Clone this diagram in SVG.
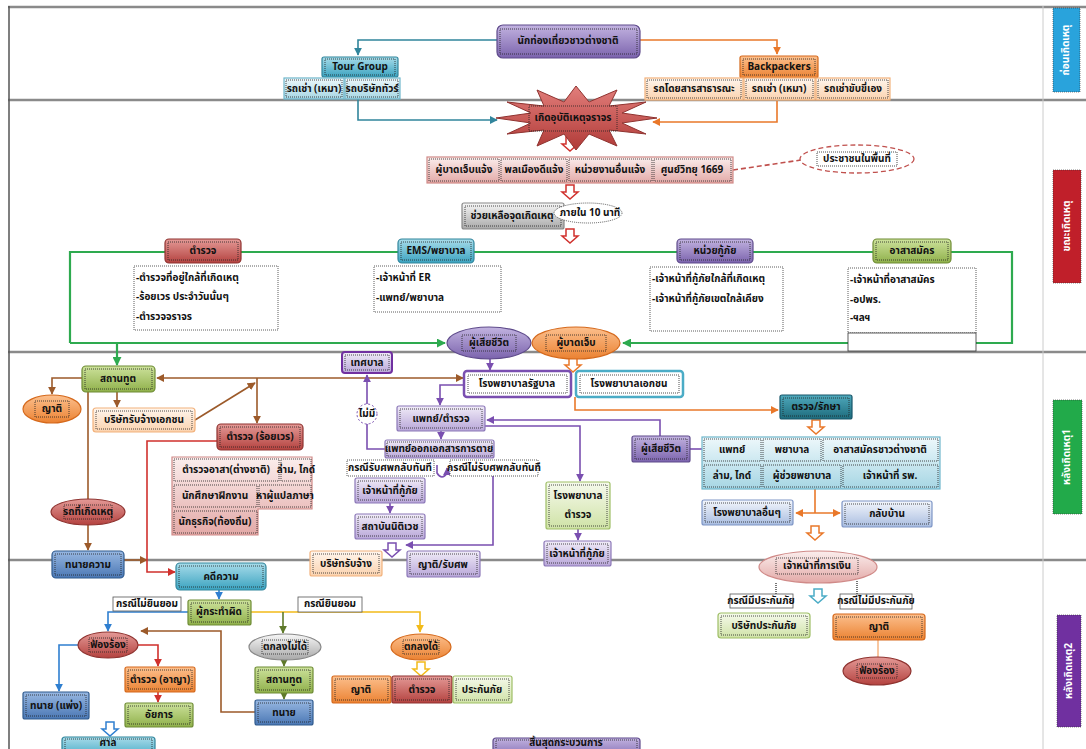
<svg xmlns="http://www.w3.org/2000/svg" width="1086" height="749" viewBox="0 0 1086 749">
<defs>
<linearGradient id="gpu" x1="0" y1="0" x2="0" y2="1"><stop offset="0" stop-color="#c2b3e0"/><stop offset="1" stop-color="#7b63ad"/></linearGradient>
<linearGradient id="gte" x1="0" y1="0" x2="0" y2="1"><stop offset="0" stop-color="#a8dcea"/><stop offset="1" stop-color="#3ba3c0"/></linearGradient>
<linearGradient id="gor" x1="0" y1="0" x2="0" y2="1"><stop offset="0" stop-color="#fcc08e"/><stop offset="1" stop-color="#eb8232"/></linearGradient>
<linearGradient id="gre" x1="0" y1="0" x2="0" y2="1"><stop offset="0" stop-color="#e49a97"/><stop offset="1" stop-color="#b4423f"/></linearGradient>
<linearGradient id="ggr" x1="0" y1="0" x2="0" y2="1"><stop offset="0" stop-color="#cde29c"/><stop offset="1" stop-color="#8fb04a"/></linearGradient>
<linearGradient id="gbl" x1="0" y1="0" x2="0" y2="1"><stop offset="0" stop-color="#98b8e2"/><stop offset="1" stop-color="#4a77b4"/></linearGradient>
<linearGradient id="ggy" x1="0" y1="0" x2="0" y2="1"><stop offset="0" stop-color="#f7f7f7"/><stop offset="1" stop-color="#a8a8a8"/></linearGradient>
<linearGradient id="glp" x1="0" y1="0" x2="0" y2="1"><stop offset="0" stop-color="#f1ecf8"/><stop offset="1" stop-color="#b8a6d8"/></linearGradient>
<linearGradient id="glt" x1="0" y1="0" x2="0" y2="1"><stop offset="0" stop-color="#eef8fb"/><stop offset="1" stop-color="#a6d6e4"/></linearGradient>
<linearGradient id="glo" x1="0" y1="0" x2="0" y2="1"><stop offset="0" stop-color="#fff6ee"/><stop offset="1" stop-color="#fbd2ae"/></linearGradient>
<linearGradient id="glg" x1="0" y1="0" x2="0" y2="1"><stop offset="0" stop-color="#f6faec"/><stop offset="1" stop-color="#cfe2a6"/></linearGradient>
<linearGradient id="gpk" x1="0" y1="0" x2="0" y2="1"><stop offset="0" stop-color="#fbeeed"/><stop offset="1" stop-color="#e3a9a7"/></linearGradient>
<linearGradient id="gdt" x1="0" y1="0" x2="0" y2="1"><stop offset="0" stop-color="#4fa9bc"/><stop offset="1" stop-color="#1d6b7c"/></linearGradient>
<linearGradient id="glb" x1="0" y1="0" x2="0" y2="1"><stop offset="0" stop-color="#f3f6fc"/><stop offset="1" stop-color="#a9bde0"/></linearGradient>
<linearGradient id="gst" x1="0" y1="0" x2="0" y2="1"><stop offset="0" stop-color="#e27e7b"/><stop offset="1" stop-color="#b03a37"/></linearGradient>
<marker id="aT" viewBox="0 0 10 10" refX="9" refY="5" markerWidth="8" markerHeight="8" markerUnits="userSpaceOnUse" orient="auto"><path d="M0,0 L10,5 L0,10 z" fill="#31859c"/></marker>
<marker id="aO" viewBox="0 0 10 10" refX="9" refY="5" markerWidth="8" markerHeight="8" markerUnits="userSpaceOnUse" orient="auto-start-reverse"><path d="M0,0 L10,5 L0,10 z" fill="#e9782a"/></marker>
<marker id="aG" viewBox="0 0 10 10" refX="9" refY="5" markerWidth="9" markerHeight="9" markerUnits="userSpaceOnUse" orient="auto"><path d="M0,0 L10,5 L0,10 z" fill="#2eaa4f"/></marker>
<marker id="aB" viewBox="0 0 10 10" refX="9" refY="5" markerWidth="8" markerHeight="8" markerUnits="userSpaceOnUse" orient="auto-start-reverse"><path d="M0,0 L10,5 L0,10 z" fill="#9c5a2a"/></marker>
<marker id="aR" viewBox="0 0 10 10" refX="9" refY="5" markerWidth="8" markerHeight="8" markerUnits="userSpaceOnUse" orient="auto"><path d="M0,0 L10,5 L0,10 z" fill="#d0312d"/></marker>
<marker id="aP" viewBox="0 0 10 10" refX="9" refY="5" markerWidth="8" markerHeight="8" markerUnits="userSpaceOnUse" orient="auto"><path d="M0,0 L10,5 L0,10 z" fill="#7a4fb0"/></marker>
<marker id="aL" viewBox="0 0 10 10" refX="9" refY="5" markerWidth="8" markerHeight="8" markerUnits="userSpaceOnUse" orient="auto"><path d="M0,0 L10,5 L0,10 z" fill="#2f7fd0"/></marker>
<marker id="aY" viewBox="0 0 10 10" refX="9" refY="5" markerWidth="8" markerHeight="8" markerUnits="userSpaceOnUse" orient="auto"><path d="M0,0 L10,5 L0,10 z" fill="#f2bb1a"/></marker>
<marker id="aV" viewBox="0 0 10 10" refX="9" refY="5" markerWidth="8" markerHeight="8" markerUnits="userSpaceOnUse" orient="auto"><path d="M0,0 L10,5 L0,10 z" fill="#5f7a2a"/></marker>
<path id="ha" d="M-4,0 H4 V7 H8 L0,14 L-8,7 H-4 Z"/>
<style>
.t{font-family:"Noto Sans Thai","Noto Sans","DejaVu Sans",sans-serif;font-size:10px;font-weight:bold;fill:#111;text-anchor:middle;dominant-baseline:central}
.l{text-anchor:start}
.w{fill:#fff;font-size:10px}
.d{fill:none;stroke:#222;stroke-width:.8;stroke-dasharray:1 1}
.pu .b{fill:url(#gpu);stroke:#5f4b8b;stroke-width:1.2}
.te .b{fill:url(#gte);stroke:#31859c;stroke-width:1.2}
.or .b{fill:url(#gor);stroke:#d5691c;stroke-width:1.2}
.re .b{fill:url(#gre);stroke:#8f3330;stroke-width:1.2}
.gr .b{fill:url(#ggr);stroke:#6e8c34;stroke-width:1.2}
.bl .b{fill:url(#gbl);stroke:#2f5a8e;stroke-width:1.2}
.gy .b{fill:url(#ggy);stroke:#888;stroke-width:1.2}
.lp .b{fill:url(#glp);stroke:#8c78b8;stroke-width:1.2}
.lt .b{fill:url(#glt);stroke:#6fb6cb;stroke-width:1.2}
.lo .b{fill:url(#glo);stroke:#f2b27c;stroke-width:1.2}
.lg .b{fill:url(#glg);stroke:#9fbf67;stroke-width:1.2}
.pk .b{fill:url(#gpk);stroke:#d08a88;stroke-width:1.2}
.dt .b{fill:url(#gdt);stroke:#17566a;stroke-width:1.2}
.lb .b{fill:url(#glb);stroke:#7e96c6;stroke-width:1.2}
.wh .b{fill:#fff;stroke:#333;stroke-width:.8;stroke-dasharray:1 1}
.c path,.c line{fill:none;stroke-width:1.6}
.cT{stroke:#31859c}.cO{stroke:#e9782a}.cG{stroke:#2eaa4f;stroke-width:2.2!important}.cB{stroke:#9c5a2a}.cR{stroke:#d0312d}.cP{stroke:#7a4fb0}.cL{stroke:#2f7fd0}.cY{stroke:#f2bb1a}.cV{stroke:#5f7a2a}
.h{stroke-width:1.5;fill:#fff}
.sep{stroke:#8a8a8a;stroke-width:2.5}
</style>
</defs>
<rect width="1086" height="749" fill="#fff"/>
<g id="frame">
<line class="sep" x1="8" y1="7" x2="1086" y2="7"/>
<line class="sep" x1="8" y1="100" x2="1086" y2="100"/>
<line class="sep" x1="8" y1="352" x2="1086" y2="352"/>
<line class="sep" x1="8" y1="560" x2="1086" y2="560"/>
<line x1="9" y1="6" x2="9" y2="749" stroke="#555" stroke-width="1.5"/>
<line x1="1043" y1="6" x2="1043" y2="749" stroke="#ccc" stroke-width="1"/>
</g>

<g id="connectors" class="c">
<path class="cT" d="M497,40 H358 V55" marker-end="url(#aT)"/>
<path class="cO" d="M640,40 H777 V54" marker-end="url(#aO)"/>
<path class="cT" d="M358,99 V120 H497" marker-end="url(#aT)"/>
<path class="cO" d="M777,101 V122 H653" marker-end="url(#aO)"/>
<path d="M733,170 L801,160" stroke="#c0504d" stroke-dasharray="5 3"/>
<path class="cG" d="M70,343 V252 H1012 V343 H623" marker-end="url(#aG)"/>
<path class="cG" d="M70,343 H445" marker-end="url(#aG)"/>
<path class="cG" d="M117,343 V365" marker-end="url(#aG)"/>
<path class="cB" d="M82,378 H52 V394" marker-end="url(#aB)"/>
<path class="cB" d="M117,392 V407" marker-end="url(#aB)"/>
<path class="cB" d="M157,378 H463" marker-start="url(#aB)" marker-end="url(#aB)"/>
<path class="cB" d="M257,378 V423" marker-end="url(#aB)"/>
<path class="cB" d="M195,420 L255,383" marker-end="url(#aB)"/>
<path class="cB" d="M88,392 V499"/>
<path class="cB" d="M88,525 V550" marker-end="url(#aB)"/>
<path class="cB" d="M124,560 H147" marker-end="url(#aB)"/>
<path class="cR" d="M217,441 H147 V572 H175" marker-end="url(#aR)"/>
<path class="cP" d="M385,449 H367 V424"/>
<path class="cP" d="M367,404 V375" marker-end="url(#aP)"/>
<path class="cP" d="M490,359 V370" marker-end="url(#aP)"/>
<path class="cP" d="M464,385 H440 V405" marker-end="url(#aP)"/>
<path class="cO" d="M575,397 V410 H778" marker-end="url(#aO)"/>
<path class="cP" d="M660,436 V420 H487" marker-end="url(#aP)"/>
<path class="cP" d="M485,426 H580 V481" marker-end="url(#aP)"/>
<path class="cP" d="M690,449 H702"/>
<path class="cP" d="M441,431 V439" marker-end="url(#aP)"/>
<path class="cP" d="M437,465 V473 Q442,481 447,473 V468" marker-end="url(#aP)"/>
<path class="cP" d="M493,476 V545 H406" marker-end="url(#aP)"/>
<path class="cP" d="M390,503 V513" marker-end="url(#aP)"/>
<path class="cP" d="M578,529 V540" marker-end="url(#aP)"/>
<path class="cO" d="M815,489 V513"/>
<path class="cO" d="M796,513 H840" marker-start="url(#aO)" marker-end="url(#aO)"/>
<path class="cL" d="M219,590 V599" marker-end="url(#aL)"/>
<path class="cL" d="M188,612 H108 V631" marker-end="url(#aL)"/>
<path class="cY" d="M251,612 H420 V632" marker-end="url(#aY)"/>
<path class="cV" d="M283,612 V633" marker-end="url(#aV)"/>
<path class="cV" d="M284,660 V666" marker-end="url(#aV)"/>
<path class="cV" d="M284,693 V699" marker-end="url(#aV)"/>
<path class="cB" d="M255,712 H221 V631 H141" marker-end="url(#aB)"/>
<path class="cL" d="M79,645 H59 V691" marker-end="url(#aL)"/>
<path class="cR" d="M138,645 H158 V666" marker-end="url(#aR)"/>
<path class="cR" d="M158,692 V702" marker-end="url(#aR)"/>
<path d="M776,583 V594 M857,581 V594" stroke="#555" stroke-dasharray="1 1" stroke-width="1"/>
<path d="M878,640 V657" stroke="#f7b98a"/>
<use href="#ha" x="570" y="137" class="h" stroke="#d0312d"/>
<use href="#ha" x="570" y="185" class="h" stroke="#d0312d"/>
<use href="#ha" x="570" y="229" class="h" stroke="#d0312d"/>
<use href="#ha" x="573" y="358" class="h" stroke="#e9782a"/>
<use href="#ha" x="816" y="420" class="h" stroke="#e9782a"/>
<use href="#ha" x="815" y="526" class="h" stroke="#e9782a"/>
<use href="#ha" x="392" y="543" class="h" stroke="#7a4fb0"/>
<use href="#ha" x="818" y="589" class="h" stroke="#4bacc6"/>
<use href="#ha" x="421" y="662" class="h" stroke="#f2bb1a"/>
<use href="#ha" x="110" y="722" class="h" stroke="#2f7fd0"/>
</g>

<g id="n-tourist" class="pu"><rect class="b" x="497" y="25" width="143" height="33" rx="6"/><rect class="d" x="500" y="29" width="137" height="25"/><text class="t" x="568" y="41" font-size="13">นักท่องเที่ยวชาวต่างชาติ</text></g>
<g id="n-tourgroup" class="te"><rect class="b" x="322" y="57" width="76" height="20" rx="2"/><rect class="d" x="325" y="59" width="70" height="16"/><text class="t" x="360" y="67">Tour Group</text></g>
<g id="n-tg1" class="lt"><rect class="b" x="284" y="78" width="60" height="21"/><rect class="d" x="286" y="80" width="56" height="17"/><text class="t" x="314" y="89">รถเช่า (เหมา)</text></g>
<g id="n-tg2" class="lt"><rect class="b" x="345" y="78" width="55" height="21"/><rect class="d" x="347" y="80" width="51" height="17"/><text class="t" x="372" y="89">รถบริษัททัวร์</text></g>
<g id="n-backpackers" class="or"><rect class="b" x="740" y="56" width="78" height="22" rx="2"/><rect class="d" x="743" y="59" width="72" height="16"/><text class="t" x="779" y="67">Backpackers</text></g>
<g id="n-bp1" class="lo"><rect class="b" x="645" y="78" width="98" height="22"/><rect class="d" x="647" y="80" width="94" height="18"/><text class="t" x="694" y="89">รถโดยสารสาธารณะ</text></g>
<g id="n-bp2" class="lo"><rect class="b" x="744" y="78" width="71" height="22"/><rect class="d" x="746" y="80" width="67" height="18"/><text class="t" x="779" y="89">รถเช่า (เหมา)</text></g>
<g id="n-bp3" class="lo"><rect class="b" x="816" y="78" width="74" height="22"/><rect class="d" x="818" y="80" width="70" height="18"/><text class="t" x="853" y="89">รถเช่าขับขี่เอง</text></g>

<g id="n-accident"><polygon points="657,118 622,123 646,134 609,130 617,146 589,134 576,150 564,134 537,146 544,130 507,134 531,123 496,118 531,113 507,102 544,106 537,90 564,102 576,86 589,102 617,90 609,106 646,102 622,113" fill="url(#gst)" stroke="#8f3330" stroke-width="1"/><rect class="d" x="529" y="106" width="88" height="25"/><text class="t" x="573" y="118" font-size="11">เกิดอุบัติเหตุจราจร</text></g>

<g id="n-report" class="pk">
<rect class="b" x="427" y="157" width="306" height="26"/>
<rect class="d" x="429" y="159" width="70" height="22"/><text class="t" x="464" y="170">ผู้บาดเจ็บแจ้ง</text>
<rect class="d" x="501" y="159" width="66" height="22"/><text class="t" x="534" y="170">พลเมืองดีแจ้ง</text>
<rect class="d" x="569" y="159" width="83" height="22"/><text class="t" x="610" y="170">หน่วยงานอื่นแจ้ง</text>
<rect class="d" x="654" y="159" width="77" height="22"/><text class="t" x="692" y="170">ศูนย์วิทยุ 1669</text>
</g>
<g id="n-public"><ellipse cx="857" cy="159" rx="57" ry="14" fill="#fff" stroke="#c0504d" stroke-width="1.3" stroke-dasharray="5 3"/><rect class="d" x="817" y="152" width="80" height="14"/><text class="t" x="857" y="159" font-size="9">ประชาชนในพื้นที่</text></g>

<g id="n-help" class="gy"><rect class="b" x="462" y="203" width="102" height="26" rx="2"/><rect class="d" x="465" y="206" width="96" height="20"/><text class="t" x="512" y="216" font-size="9.5">ช่วยเหลือจุดเกิดเหตุ</text></g>
<g id="n-10min"><ellipse cx="588" cy="213" rx="34" ry="10" fill="#fff" stroke="#333" stroke-width=".8" stroke-dasharray="1 1"/><text class="t" x="590" y="213" font-size="8">ภายใน 10 นาที</text></g>

<g id="n-police" class="re"><rect class="b" x="165" y="239" width="76" height="24" rx="4"/><rect class="d" x="168" y="242" width="70" height="18"/><text class="t" x="203" y="251">ตำรวจ</text></g>
<g id="n-ems" class="te"><rect class="b" x="398" y="239" width="76" height="24" rx="4"/><rect class="d" x="401" y="242" width="70" height="18"/><text class="t" x="436" y="251">EMS/พยาบาล</text></g>
<g id="n-rescue" class="pu"><rect class="b" x="677" y="239" width="76" height="24" rx="4"/><rect class="d" x="680" y="242" width="70" height="18"/><text class="t" x="715" y="251">หน่วยกู้ภัย</text></g>
<g id="n-volunteer" class="gr"><rect class="b" x="873" y="239" width="78" height="24" rx="4"/><rect class="d" x="876" y="242" width="72" height="18"/><text class="t" x="912" y="251">อาสาสมัคร</text></g>

<g id="n-police-list" class="wh"><rect class="b" x="134" y="266" width="144" height="64"/><text class="t l" x="136" y="278">-ตำรวจที่อยู่ใกล้ที่เกิดเหตุ</text><text class="t l" x="136" y="297">-ร้อยเวร ประจำวันนั้นๆ</text><text class="t l" x="136" y="317">-ตำรวจจราจร</text></g>
<g id="n-ems-list" class="wh"><rect class="b" x="374" y="266" width="127" height="46"/><text class="t l" x="376" y="278">-เจ้าหน้าที่ ER</text><text class="t l" x="376" y="298">-แพทย์/พยาบาล</text></g>
<g id="n-rescue-list" class="wh"><rect class="b" x="650" y="267" width="133" height="64"/><text class="t l" x="652" y="279">-เจ้าหน้าที่กู้ภัยใกล้ที่เกิดเหตุ</text><text class="t l" x="652" y="299">-เจ้าหน้าที่กู้ภัยเขตใกล้เคียง</text></g>
<g id="n-vol-list" class="wh"><rect class="b" x="848" y="268" width="128" height="65"/><rect x="848" y="333" width="128" height="18" fill="#fff" stroke="#333" stroke-width=".8"/><text class="t l" x="850" y="280">-เจ้าหน้าที่อาสาสมัคร</text><text class="t l" x="850" y="300">-อปพร.</text><text class="t l" x="850" y="318">-ฯลฯ</text></g>

<g id="n-dead" class="pu"><ellipse class="b" cx="489" cy="343" rx="42" ry="16"/><rect class="d" x="462" y="335" width="54" height="16"/><text class="t" x="489" y="343" font-size="11">ผู้เสียชีวิต</text></g>
<g id="n-injured" class="or"><ellipse class="b" cx="576" cy="343" rx="44" ry="16"/><rect class="d" x="546" y="335" width="60" height="16"/><text class="t" x="576" y="343" font-size="11">ผู้บาดเจ็บ</text></g>

<g id="n-embassy" class="gr"><rect class="b" x="82" y="366" width="73" height="26" rx="4"/><rect class="d" x="85" y="369" width="67" height="20"/><text class="t" x="118" y="379">สถานทูต</text></g>
<g id="n-relative1" class="or"><ellipse class="b" cx="52" cy="409" rx="29" ry="14"/><rect class="d" x="35" y="401" width="34" height="16"/><text class="t" x="52" y="409">ญาติ</text></g>
<g id="n-private-co" class="lo"><rect class="b" x="93" y="408" width="102" height="24" rx="3"/><rect class="d" x="96" y="411" width="96" height="18"/><text class="t" x="144" y="420">บริษัทรับจ้างเอกชน</text></g>
<g id="n-police-duty" class="re"><rect class="b" x="217" y="424" width="86" height="26" rx="4"/><rect class="d" x="220" y="427" width="80" height="20"/><text class="t" x="260" y="437">ตำรวจ (ร้อยเวร)</text></g>
<g id="n-helpers" class="pk">
<path class="b" d="M172,457 H312 V509 H258 V535 H172 Z"/>
<rect class="d" x="174" y="459" width="105" height="22"/><text class="t" x="226" y="470" font-size="9.5">ตำรวจอาสา(ต่างชาติ)</text>
<rect class="d" x="281" y="459" width="30" height="22"/><text class="t" x="296" y="470" font-size="9">ล่าม, ไกด์</text>
<rect class="d" x="174" y="485" width="83" height="22"/><text class="t" x="215" y="496" font-size="9.5">นักศึกษาฝึกงาน</text>
<rect class="d" x="259" y="485" width="52" height="22"/><text class="t" x="285" y="496" font-size="9">หาผู้แปลภาษา</text>
<rect class="d" x="174" y="511" width="83" height="22"/><text class="t" x="215" y="522" font-size="9.5">นักธุรกิจ(ท้องถิ่น)</text>
</g>
<g id="n-car" class="re"><ellipse class="b" cx="88" cy="512" rx="37" ry="13"/><rect class="d" x="64" y="505" width="48" height="14"/><text class="t" x="88" y="512" font-size="8">รถที่เกิดเหตุ</text></g>
<g id="n-lawyer1" class="bl"><rect class="b" x="52" y="551" width="72" height="27" rx="4"/><rect class="d" x="55" y="554" width="66" height="21"/><text class="t" x="88" y="565">ทนายความ</text></g>
<g id="n-case" class="te"><rect class="b" x="176" y="563" width="90" height="27" rx="4"/><rect class="d" x="179" y="566" width="84" height="21"/><text class="t" x="221" y="577">คดีความ</text></g>

<g id="n-municipal" class="lp"><rect class="b" x="342" y="352" width="50" height="21" rx="3" style="stroke:#7030a0;stroke-width:2"/><rect class="d" x="345" y="355" width="44" height="15"/><text class="t" x="367" y="363">เทศบาล</text></g>
<g id="n-none"><circle cx="367" cy="414" r="10" fill="#fff" stroke="#7a4fb0" stroke-width="1" stroke-dasharray="2 2"/><text class="t" x="367" y="414" font-size="8">ไม่มี</text></g>
<g id="n-gov-hosp"><rect x="464" y="371" width="107" height="26" rx="3" fill="#fff" stroke="#7a4fb0" stroke-width="2.5"/><rect class="d" x="468" y="375" width="99" height="18"/><text class="t" x="517" y="384">โรงพยาบาลรัฐบาล</text></g>
<g id="n-priv-hosp"><rect x="576" y="371" width="107" height="26" rx="3" fill="#fff" stroke="#4bacc6" stroke-width="2.5"/><rect class="d" x="580" y="375" width="99" height="18"/><text class="t" x="629" y="384">โรงพยาบาลเอกชน</text></g>
<g id="n-doc-police" class="lp"><rect class="b" x="397" y="406" width="88" height="25" rx="2"/><rect class="d" x="400" y="409" width="82" height="19"/><text class="t" x="441" y="419">แพทย์/ตำรวจ</text></g>
<g id="n-death-doc" class="lp"><rect class="b" x="385" y="440" width="109" height="18" rx="2"/><rect class="d" x="387" y="442" width="105" height="14"/><text class="t" x="439" y="449" font-size="9">แพทย์ออกเอกสารการตาย</text></g>
<g id="n-case-take" class="wh"><rect class="b" x="347" y="460" width="87" height="16"/><text class="t" x="390" y="468" font-size="8.5">กรณีรับศพกลับทันที</text></g>
<g id="n-case-notake" class="wh"><rect class="b" x="450" y="460" width="88" height="16"/><text class="t" x="494" y="468" font-size="8.5">กรณีไม่รับศพกลับทันที</text></g>
<g id="n-rescue2" class="lp"><rect class="b" x="355" y="478" width="70" height="25" rx="2"/><rect class="d" x="358" y="481" width="64" height="19"/><text class="t" x="390" y="491">เจ้าหน้าที่กู้ภัย</text></g>
<g id="n-forensic" class="lp"><rect class="b" x="355" y="514" width="70" height="25" rx="2"/><rect class="d" x="358" y="517" width="64" height="19"/><text class="t" x="390" y="527">สถาบันนิติเวช</text></g>
<g id="n-hire" class="lo"><rect class="b" x="310" y="551" width="72" height="25" rx="2"/><rect class="d" x="313" y="554" width="66" height="19"/><text class="t" x="346" y="564">บริษัทรับจ้าง</text></g>
<g id="n-relative-body" class="lp"><rect class="b" x="407" y="551" width="73" height="26" rx="2"/><rect class="d" x="410" y="554" width="67" height="20"/><text class="t" x="443" y="565">ญาติ/รับศพ</text></g>
<g id="n-police-hosp" class="lg"><rect class="b" x="546" y="482" width="64" height="47" rx="2"/><rect class="d" x="549" y="485" width="58" height="41"/><text class="t" x="578" y="496">โรงพยาบาล</text><text class="t" x="578" y="515">ตำรวจ</text></g>
<g id="n-rescue3" class="lp"><rect class="b" x="544" y="541" width="67" height="25" rx="2"/><rect class="d" x="547" y="544" width="61" height="19"/><text class="t" x="577" y="554">เจ้าหน้าที่กู้ภัย</text></g>

<g id="n-treat" class="dt"><rect class="b" x="780" y="395" width="72" height="24" rx="2"/><rect class="d" x="783" y="398" width="66" height="18"/><text class="t" x="816" y="407">ตรวจ/รักษา</text></g>
<g id="n-dead2" class="pu"><rect class="b" x="632" y="436" width="58" height="26" rx="2"/><rect class="d" x="635" y="439" width="52" height="20"/><text class="t" x="661" y="449">ผู้เสียชีวิต</text></g>
<g id="n-staff" class="lt">
<rect class="b" x="702" y="437" width="238" height="52"/>
<rect class="d" x="704" y="439" width="57" height="22"/><text class="t" x="732" y="450">แพทย์</text>
<rect class="d" x="763" y="439" width="58" height="22"/><text class="t" x="792" y="450">พยาบาล</text>
<rect class="d" x="823" y="439" width="115" height="22"/><text class="t" x="880" y="450">อาสาสมัครชาวต่างชาติ</text>
<rect class="d" x="704" y="465" width="57" height="22"/><text class="t" x="732" y="476">ล่าม, ไกด์</text>
<rect class="d" x="763" y="465" width="78" height="22"/><text class="t" x="802" y="476">ผู้ช่วยพยาบาล</text>
<rect class="d" x="843" y="465" width="95" height="22"/><text class="t" x="890" y="476">เจ้าหน้าที่ รพ.</text>
</g>
<g id="n-other-hosp" class="lb"><rect class="b" x="702" y="500" width="91" height="25" rx="2"/><rect class="d" x="705" y="503" width="85" height="19"/><text class="t" x="747" y="513">โรงพยาบาลอื่นๆ</text></g>
<g id="n-home" class="lb"><rect class="b" x="842" y="501" width="90" height="26" rx="2"/><rect class="d" x="845" y="504" width="84" height="20"/><text class="t" x="887" y="514">กลับบ้าน</text></g>
<g id="n-finance" class="pk"><ellipse class="b" cx="818" cy="567" rx="59" ry="16"/><rect class="d" x="776" y="558" width="82" height="16"/><text class="t" x="817" y="566">เจ้าหน้าที่การเงิน</text></g>

<g id="n-offender" class="gr"><rect class="b" x="188" y="600" width="63" height="25" rx="2"/><rect class="d" x="191" y="603" width="57" height="19"/><text class="t" x="219" y="612">ผู้กระทำผิด</text></g>
<g id="n-no-consent" class="wh"><rect class="b" x="113" y="597" width="68" height="14" style="stroke-dasharray:none;stroke:#555"/><text class="t" x="147" y="604" font-size="8.5">กรณีไม่ยินยอม</text></g>
<g id="n-consent" class="wh"><rect class="b" x="298" y="597" width="64" height="15" style="stroke-dasharray:none;stroke:#555"/><text class="t" x="330" y="604" font-size="8.5">กรณียินยอม</text></g>
<g id="n-sue1" class="re"><ellipse class="b" cx="108" cy="645" rx="30" ry="13"/><rect class="d" x="89" y="638" width="38" height="14"/><text class="t" x="108" y="645" font-size="9">ฟ้องร้อง</text></g>
<g id="n-noagree" class="gy"><ellipse class="b" cx="285" cy="647" rx="36" ry="13"/><rect class="d" x="262" y="640" width="46" height="14"/><text class="t" x="285" y="647" font-size="9">ตกลงไม่ได้</text></g>
<g id="n-agree" class="or"><ellipse class="b" cx="421" cy="647" rx="30" ry="13"/><rect class="d" x="403" y="640" width="36" height="14"/><text class="t" x="421" y="647" font-size="9">ตกลงได้</text></g>
<g id="n-embassy2" class="gr"><rect class="b" x="255" y="667" width="58" height="26" rx="2"/><rect class="d" x="258" y="670" width="52" height="20"/><text class="t" x="284" y="680">สถานทูต</text></g>
<g id="n-lawyer3" class="bl"><rect class="b" x="255" y="700" width="58" height="25" rx="2"/><rect class="d" x="258" y="703" width="52" height="19"/><text class="t" x="284" y="713">ทนาย</text></g>
<g id="n-rel3" class="or"><rect class="b" x="332" y="676" width="59" height="27" rx="2"/><rect class="d" x="335" y="679" width="53" height="21"/><text class="t" x="361" y="690">ญาติ</text></g>
<g id="n-police3" class="re"><rect class="b" x="392" y="676" width="60" height="27" rx="2"/><rect class="d" x="395" y="679" width="54" height="21"/><text class="t" x="422" y="690">ตำรวจ</text></g>
<g id="n-insure3" class="lg"><rect class="b" x="453" y="676" width="59" height="27" rx="2"/><rect class="d" x="456" y="679" width="53" height="21"/><text class="t" x="482" y="690">ประกันภัย</text></g>
<g id="n-criminal" class="or"><rect class="b" x="125" y="667" width="70" height="25" rx="2"/><rect class="d" x="128" y="670" width="64" height="19"/><text class="t" x="160" y="680">ตำรวจ (อาญา)</text></g>
<g id="n-prosecutor" class="gr"><rect class="b" x="125" y="703" width="68" height="24" rx="2"/><rect class="d" x="128" y="706" width="62" height="18"/><text class="t" x="159" y="715">อัยการ</text></g>
<g id="n-civil" class="bl"><rect class="b" x="23" y="692" width="66" height="27" rx="2"/><rect class="d" x="26" y="695" width="60" height="21"/><text class="t" x="56" y="706">ทนาย (แพ่ง)</text></g>
<g id="n-court" class="te"><rect class="b" x="62" y="737" width="93" height="22" rx="3"/><rect class="d" x="65" y="739" width="87" height="16"/><text class="t" x="108" y="743" font-size="8.5">ศาล</text></g>
<g id="n-end" class="pu"><rect class="b" x="493" y="738" width="147" height="22" rx="3"/><rect class="d" x="496" y="740" width="141" height="16"/><text class="t" x="566" y="742.5" font-size="7.5">สิ้นสุดกระบวนการ</text></g>

<g id="n-has-ins" class="wh"><rect class="b" x="730" y="594" width="63" height="14" style="stroke-dasharray:none;stroke:#555"/><text class="t" x="761" y="601" font-size="8.5">กรณีมีประกันภัย</text></g>
<g id="n-no-ins" class="wh"><rect class="b" x="840" y="594" width="72" height="15" style="stroke-dasharray:none;stroke:#555"/><text class="t" x="876" y="601" font-size="8.5">กรณีไม่มีประกันภัย</text></g>
<g id="n-ins-co" class="lg"><rect class="b" x="718" y="613" width="92" height="25" rx="3"/><rect class="d" x="721" y="616" width="86" height="19"/><text class="t" x="764" y="626">บริษัทประกันภัย</text></g>
<g id="n-rel4" class="or"><rect class="b" x="833" y="614" width="92" height="26" rx="3"/><rect class="d" x="836" y="617" width="86" height="20"/><text class="t" x="879" y="627">ญาติ</text></g>
<g id="n-sue2" class="re"><ellipse class="b" cx="877" cy="671" rx="34" ry="14"/><rect class="d" x="857" y="664" width="40" height="14"/><text class="t" x="877" y="671" font-size="9">ฟ้องร้อง</text></g>

<g id="phase1"><rect x="1053" y="8" width="27" height="84" fill="#29a3dc" stroke="#333" stroke-width=".6" stroke-dasharray="1 1"/><text class="t w" transform="translate(1066,50) rotate(-90)">ก่อนเกิดเหตุ</text></g>
<g id="phase2"><rect x="1053" y="170" width="28" height="113" fill="#c01f2a" stroke="#333" stroke-width=".6" stroke-dasharray="1 1"/><text class="t w" transform="translate(1067,226) rotate(-90)">ขณะเกิดเหตุ</text></g>
<g id="phase3"><rect x="1053" y="400" width="29" height="114" fill="#22aa4a" stroke="#333" stroke-width=".6" stroke-dasharray="1 1"/><text class="t w" transform="translate(1067,457) rotate(-90)">หลังเกิดเหตุ1</text></g>
<g id="phase4"><rect x="1057" y="615" width="24" height="112" fill="#7030a0" stroke="#333" stroke-width=".6" stroke-dasharray="1 1"/><text class="t w" transform="translate(1069,671) rotate(-90)">หลังเกิดเหตุ2</text></g>
</svg>
